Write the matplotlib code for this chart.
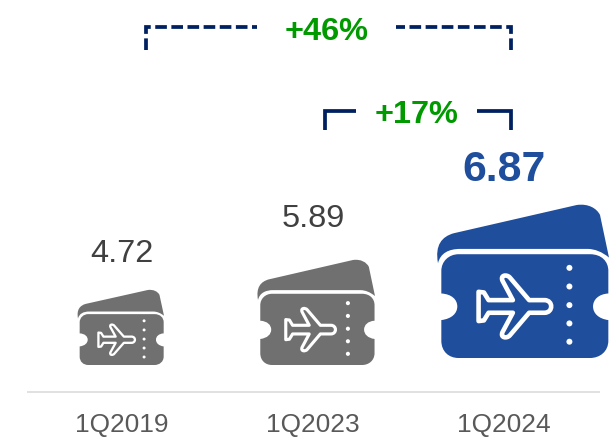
import matplotlib
matplotlib.use("Agg")
import matplotlib.pyplot as plt
from matplotlib.path import Path
from matplotlib.patches import PathPatch, Circle
from matplotlib.transforms import Affine2D

# data
categories = ["1Q2019", "1Q2023", "1Q2024"]
values = [4.72, 5.89, 6.87]
growth_labels = ["+46%", "+17%"]

# layout, in reference pixels
W, H = 616, 448
centers = [122, 313, 504]
label_y = [254, 219, 170]
boxes = [(78, 290, 86, 75), (258, 260, 117, 105), (438, 205, 171, 153)]
colors = ["#707070", "#707070", "#1F4E9C"]
M, L, C = Path.MOVETO, Path.LINETO, Path.CURVE4
EPS = Path.CLOSEPOLY

plt.rcParams["font.family"] = ["Liberation Sans", "DejaVu Sans"]
fig = plt.figure(figsize=(W / 100, H / 100), dpi=100)
ax = fig.add_axes([0, 0, 1, 1])
ax.set_xlim(0, W)
ax.set_ylim(H, 0)
ax.axis("off")


def curve_path(parts):
    verts, codes = [], []
    for code, pts in parts:
        for p in pts:
            verts.append(p)
            codes.append(code)
    verts.append(verts[0])
    codes.append(EPS)
    return Path(verts, codes)


back = curve_path([
    (M, [(38, 205)]),
    (C, [(28, 150), (50, 125), (85, 115)]),
    (L, [(455, 30)]),
    (C, [(490, 25), (515, 40), (525, 60)]),
    (L, [(552, 188)]),
    (C, [(530, 170), (510, 163), (490, 162)]),
    (L, [(105, 162)]),
    (C, [(70, 162), (45, 175), (38, 205)]),
])
body = curve_path([
    (M, [(100, 178)]),
    (L, [(495, 178)]),
    (C, [(530, 178), (550, 200), (550, 228)]),
    (L, [(550, 296)]),
    (C, [(520, 298), (504, 315), (504, 335)]),
    (C, [(504, 355), (520, 372), (550, 376)]),
    (L, [(550, 438)]),
    (C, [(550, 470), (525, 490), (495, 490)]),
    (L, [(100, 490)]),
    (C, [(70, 490), (48, 470), (48, 438)]),
    (L, [(48, 376)]),
    (C, [(80, 372), (96, 355), (96, 335)]),
    (C, [(96, 315), (80, 298), (48, 296)]),
    (L, [(48, 228)]),
    (C, [(48, 200), (70, 178), (100, 178)]),
])
plane = curve_path([
    (M, [(160, 291)]),
    (L, [(176, 293), (190, 316), (263, 316), (232, 258)]),
    (C, [(224, 240), (245, 238), (254, 248)]),
    (L, [(312, 316), (358, 316)]),
    (C, [(385, 316), (385, 354), (358, 354)]),
    (L, [(312, 354), (254, 422)]),
    (C, [(245, 432), (224, 430), (232, 412)]),
    (L, [(263, 354), (190, 354), (176, 377), (160, 379)]),
])
dots_y = [219, 275, 331, 386, 441]

SX0, SY0, SW, SH = 38, 30, 514, 460

for box, color in zip(boxes, colors):
    x, y, w, h = box
    tr = (Affine2D().translate(-SX0, -SY0).scale(w / SW, h / SH).translate(x, y)
          + ax.transData)
    ax.add_patch(PathPatch(back, facecolor=color, edgecolor="none", transform=tr))
    ax.add_patch(PathPatch(body, facecolor=color, edgecolor="none", transform=tr))
    lw = 3.3 * w / 171
    ax.add_patch(PathPatch(plane, facecolor=color, edgecolor="white", lw=lw,
                           joinstyle="round", transform=tr))
    for dy in dots_y:
        ax.add_patch(Circle((433, dy), 9, facecolor="white", edgecolor="none", transform=tr))

for cx, ly, val, cat, i in zip(centers, label_y, values, categories, range(3)):
    last = i == 2
    ax.text(cx, ly, f"{val:.2f}", ha="center", va="center",
            fontsize=30.8 if last else 23.4, fontweight="bold" if last else "normal",
            color="#1F4E9C" if last else "#404040")
    ax.text(cx, 425, cat, ha="center", va="center", fontsize=18.9, color="#595959")

ax.plot([27, 600], [392, 392], color="#D9D9D9", lw=1.1, solid_capstyle="butt")

NAVY = "#002060"
GREEN = "#009900"
dash = (0, (3.1, 1.2))
lw_b = 2.7
ax.plot([146, 146, 257], [50, 27, 27], color=NAVY, lw=lw_b, ls=dash, dash_capstyle="butt", dash_joinstyle="miter")
ax.plot([511, 511, 396], [50, 27, 27], color=NAVY, lw=lw_b, ls=dash, dash_capstyle="butt", dash_joinstyle="miter")
ax.plot([325, 325, 356], [130, 111.5, 111.5], color=NAVY, lw=lw_b, solid_joinstyle="miter", solid_capstyle="butt")
ax.plot([511, 511, 477], [130, 111.5, 111.5], color=NAVY, lw=lw_b, solid_joinstyle="miter", solid_capstyle="butt")
ax.text(327, 32, growth_labels[0], ha="center", va="center", fontsize=23.4, fontweight="bold", color=GREEN)
ax.text(417, 115, growth_labels[1], ha="center", va="center", fontsize=23.4, fontweight="bold", color=GREEN)

fig.savefig("out.png", dpi=100)
